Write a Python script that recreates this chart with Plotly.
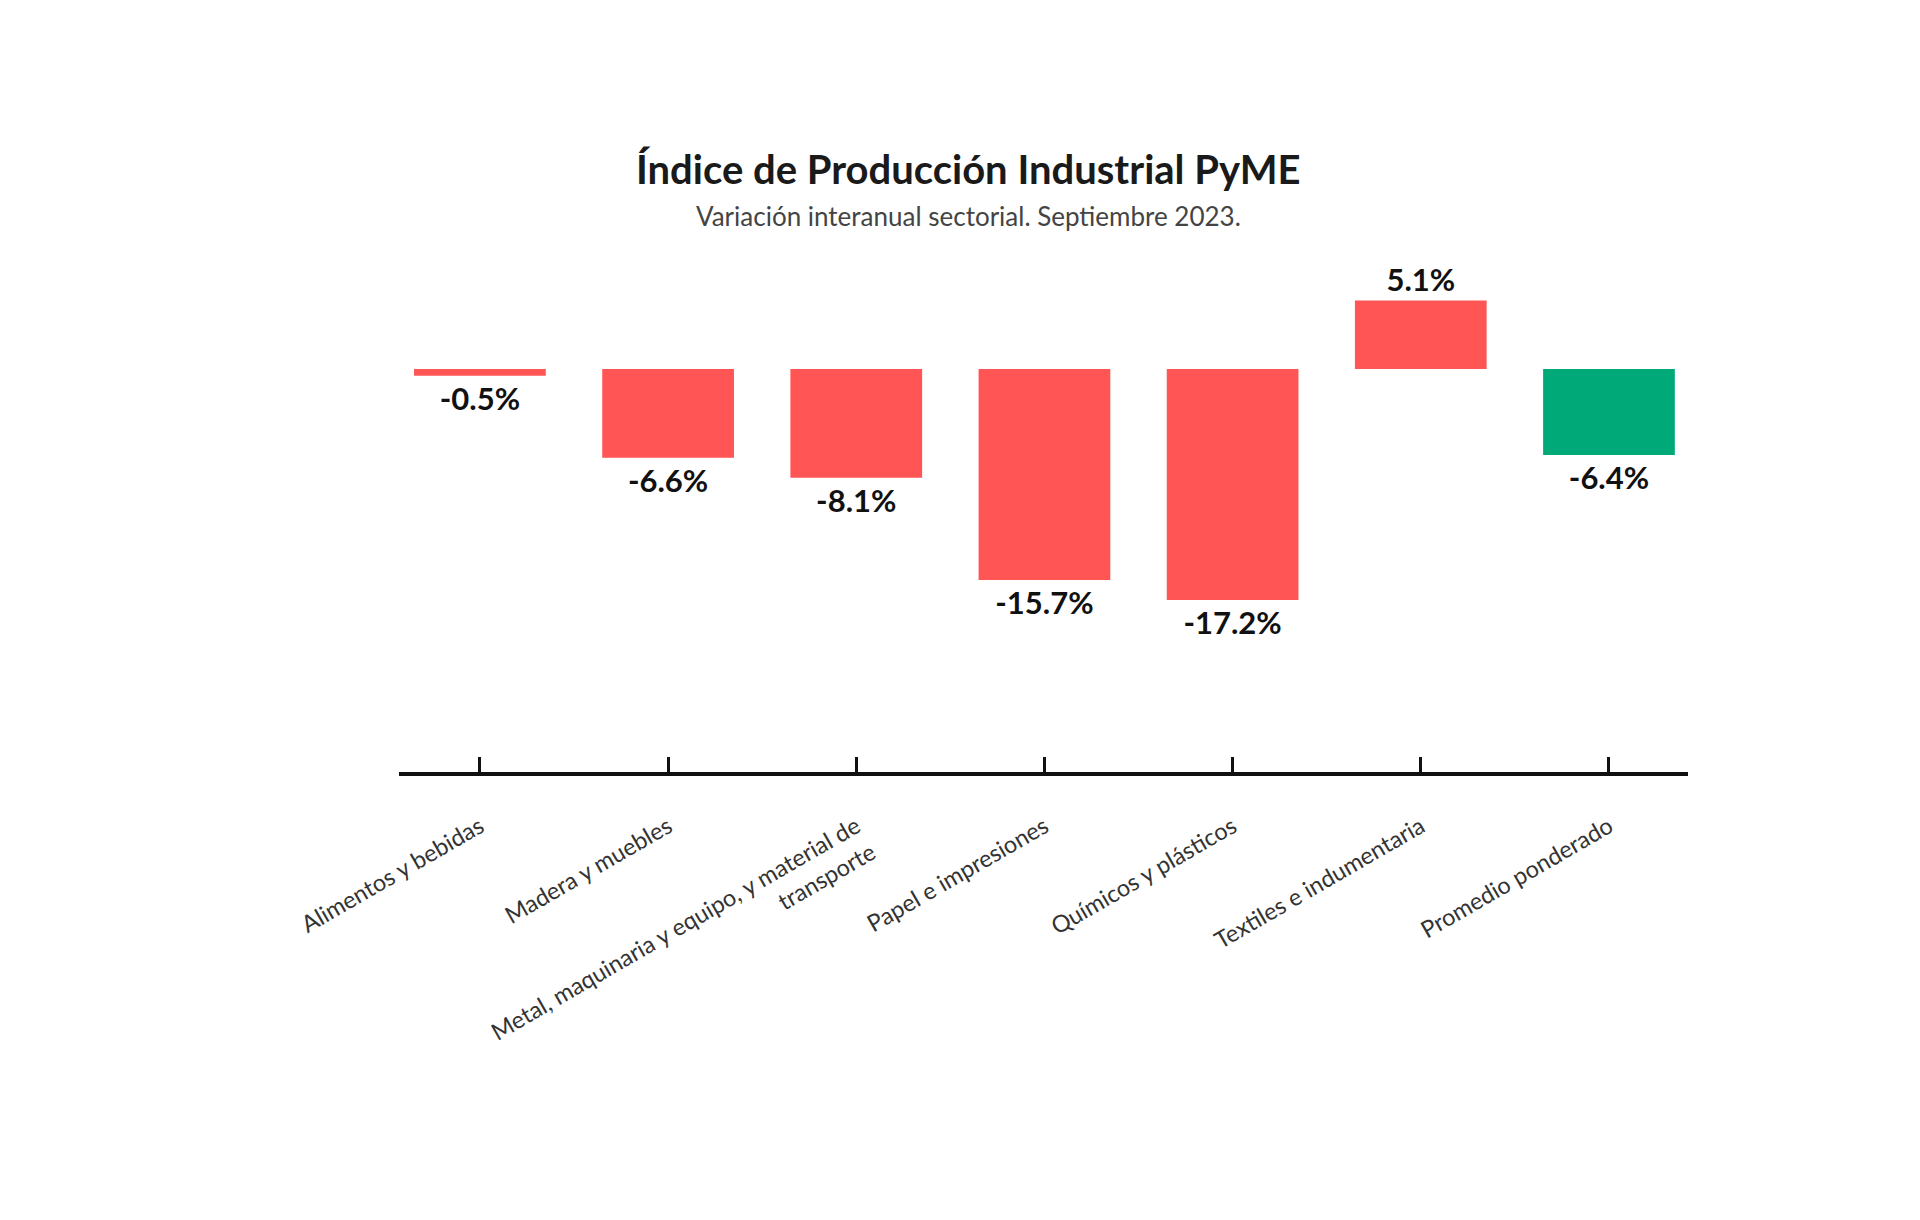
import plotly.graph_objects as go

categories = [
    "Alimentos y bebidas",
    "Madera y muebles",
    "Metal, maquinaria y equipo, y material de<br>transporte",
    "Papel e impresiones",
    "Químicos y plásticos",
    "Textiles e indumentaria",
    "Promedio ponderado",
]
values = [-0.5, -6.6, -8.1, -15.7, -17.2, 5.1, -6.4]
labels = ["-0.5%", "-6.6%", "-8.1%", "-15.7%", "-17.2%", "5.1%", "-6.4%"]
colors = ["#ff5555"] * 6 + ["#00aa78"]

FONT = "Lato"
W, H = 1920, 1220
ML, MR, MT, MB = 391, 240, 267, 456

fig = go.Figure(
    go.Bar(
        x=list(range(len(categories))),
        y=values,
        text=labels,
        textposition="outside",
        cliponaxis=False,
        textfont=dict(family=FONT, size=31, color="#111111", weight="bold"),
        marker=dict(color=colors, line=dict(width=0)),
        hoverinfo="skip",
    )
)

plot_h = H - MT - MB
plot_w = W - ML - MR


def py2paper(py):
    return (H - MB - py) / plot_h


fig.update_layout(
    width=W,
    height=H,
    paper_bgcolor="white",
    plot_bgcolor="white",
    showlegend=False,
    bargap=0.3,
    margin=dict(l=ML, r=MR, t=MT, b=MB),
    font=dict(family=FONT, color="#333333"),
    annotations=[
        dict(text="<b>Índice de Producción Industrial PyME</b>",
             x=(W / 2 - ML) / plot_w, y=py2paper(161),
             xref="paper", yref="paper", xanchor="center", yanchor="middle",
             showarrow=False,
             font=dict(family=FONT, size=40, color="#1a1a1a")),
        dict(text="Variación interanual sectorial. Septiembre 2023.",
             x=(W / 2 - ML) / plot_w, y=py2paper(208),
             xref="paper", yref="paper", xanchor="center", yanchor="middle",
             showarrow=False,
             font=dict(family=FONT, size=26, color="#444444")),
    ],
)

fig.update_xaxes(
    tickmode="array",
    tickvals=list(range(len(categories))),
    ticktext=categories,
    range=[-0.43, 6.42],
    showline=True,
    linecolor="#111111",
    linewidth=4,
    ticks="inside",
    ticklen=15,
    tickwidth=3,
    tickcolor="#111111",
    tickangle=-30,
    ticklabelstandoff=28,
    tickfont=dict(family=FONT, size=23.5, color="#333333"),
    showgrid=False,
    zeroline=False,
)
fig.update_yaxes(
    range=[-30, 7],
    visible=False,
    showgrid=False,
    zeroline=False,
)

fig.write_html("out.html")
